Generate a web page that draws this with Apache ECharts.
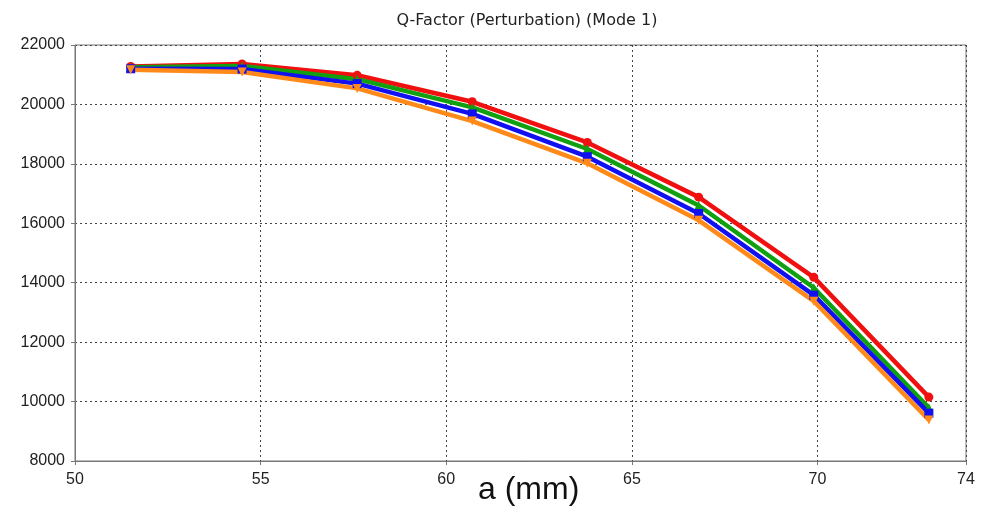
<!DOCTYPE html>
<html>
<head>
<meta charset="utf-8">
<script src="https://cdn.jsdelivr.net/npm/echarts@6/dist/echarts.min.js"></script>
<style>
  html, body { margin: 0; padding: 0; background: #fff; }
  #chart { width: 993px; height: 512px; }
</style>
</head>
<body>
<div id="chart"></div>
<script>
// Cavity side length a (mm) at each sweep step
const aValues = [51.5, 54.5, 57.6, 60.7, 63.8, 66.8, 69.9, 73.0];

// Q-factor for each perturbation curve
const qRed    = [21280, 21360, 20980, 20090, 18720, 16880, 14180, 10150];
const qGreen  = [21250, 21290, 20850, 19900, 18500, 16600, 13830,  9790];
const qBlue   = [21200, 21190, 20700, 19680, 18240, 16330, 13580,  9610];
const qOrange = [21170, 21090, 20540, 19440, 18020, 16100, 13380,  9380];

const xTicks = [50, 55, 60, 65, 70, 74];
const yTicks = [8000, 10000, 12000, 14000, 16000, 18000, 20000, 22000];

const chart = echarts.init(document.getElementById('chart'), null, { renderer: 'canvas' });

function pairs(ys) {
  return aValues.map((x, i) => [x, ys[i]]);
}

function curve(name, color, symbol, ys) {
  return {
    name: name,
    type: 'line',
    data: pairs(ys),
    symbol: symbol,
    symbolSize: 9,
    showAllSymbol: true,
    lineStyle: { color: color, width: 4.5 },
    itemStyle: { color: color },
    emphasis: { disabled: true },
    animation: false
  };
}

const tickFont = { fontFamily: 'Liberation Sans', fontSize: 16, color: '#222' };

const option = {
  backgroundColor: '#ffffff',
  animation: false,
  title: {
    text: 'Q-Factor (Perturbation) (Mode 1)',
    left: 522,
    textAlign: 'center',
    top: 8,
    textStyle: { fontFamily: 'DejaVu Sans', fontSize: 16, fontWeight: 'normal', color: '#222' }
  },
  grid: {
    left: 75, right: 27, top: 45, bottom: 51,
    show: true, borderColor: '#777', borderWidth: 1, backgroundColor: 'transparent'
  },
  xAxis: {
    type: 'value',
    min: xTicks[0],
    max: xTicks[xTicks.length - 1],
    interval: 5,
    axisLine: { show: true, lineStyle: { color: '#777', width: 1 } },
    axisTick: { show: true, length: 4, lineStyle: { color: '#777' } },
    axisLabel: Object.assign({
      showMaxLabel: true,
      margin: 11,
      formatter: v => xTicks.includes(v) ? String(v) : ''
    }, tickFont),
    splitLine: { show: true, lineStyle: { color: '#444', type: [2, 3], width: 1 } }
  },
  yAxis: {
    type: 'value',
    min: yTicks[0],
    max: yTicks[yTicks.length - 1],
    interval: 2000,
    axisLine: { show: true, lineStyle: { color: '#777', width: 1 } },
    axisTick: { show: true, length: 4, lineStyle: { color: '#777' } },
    axisLabel: Object.assign({ margin: 10, formatter: v => String(v) }, tickFont),
    splitLine: { show: true, lineStyle: { color: '#444', type: [2, 3], width: 1 } }
  },
  graphic: [{
    type: 'text',
    left: 478,
    top: 474,
    style: { text: 'a (mm)', font: '32px "Liberation Sans"', fill: '#111' }
  }],
  series: [
    curve('Red', '#f01010', 'circle', qRed),
    curve('Green', '#10a010', 'triangle', qGreen),
    curve('Blue', '#1010f0', 'rect', qBlue),
    curve('Orange', '#ff8a1a', 'triangle', qOrange)
  ]
};
option.series[3].symbolRotate = 180;

chart.setOption(option);
</script>
</body>
</html>
